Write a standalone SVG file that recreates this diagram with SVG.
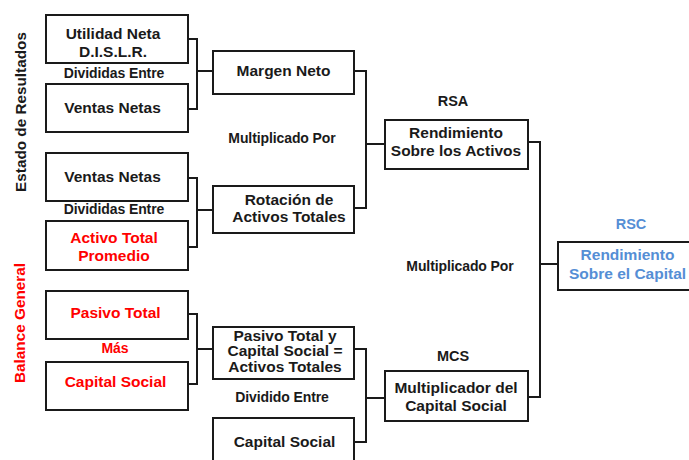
<svg xmlns="http://www.w3.org/2000/svg" width="689" height="460" viewBox="0 0 689 460">
<style>
.box{fill:#fff;stroke:#1a1a1a;stroke-width:2}
.t{font-family:"Liberation Sans",Arial,sans-serif;font-weight:bold;font-size:15.5px;fill:#1a1a1a;text-anchor:middle}
.v{font-family:"Liberation Sans",Arial,sans-serif;font-weight:bold;font-size:15.3px;fill:#1a1a1a;text-anchor:middle}
.s{font-family:"Liberation Sans",Arial,sans-serif;font-weight:bold;font-size:14px;fill:#1a1a1a;text-anchor:middle;letter-spacing:-0.1px}
.red{fill:#ff0000}
.blue{fill:#558ed5}
.c{fill:none;stroke:#1a1a1a;stroke-width:2}
</style>
<g id="connectors">
<path class="c" d="M188,39 H197 V109 H188 M197,71 H213"/>
<path class="c" d="M188,178 H197 V247 H188 M197,210 H213"/>
<path class="c" d="M188,314 H197 V384 H188 M197,349 H213"/>
<path class="c" d="M354,71 H366 V208 H354 M366,144 H385"/>
<path class="c" d="M354,349 H366 V442 H354 M366,398 H385"/>
<path class="c" d="M528,142 H540 V397 H528 M540,264 H558"/>
</g>
<g id="label-estado"><text class="v" transform="translate(25.5,112) rotate(-90)">Estado de Resultados</text></g>
<g id="label-balance"><text class="v red" transform="translate(25,323) rotate(-90)">Balance General</text></g>
<g id="n-utilidad"><rect class="box" x="46" y="15" width="142" height="48"/><text class="t" x="113" y="39">Utilidad Neta</text><text class="t" x="113" y="57">D.I.S.L.R.</text></g>
<g id="l-div1"><text class="s" x="114" y="77.5">Divididas Entre</text></g>
<g id="n-ventas1"><rect class="box" x="46" y="84" width="142" height="48"/><text class="t" x="112.5" y="113">Ventas Netas</text></g>
<g id="n-ventas2"><rect class="box" x="46" y="153" width="142" height="48"/><text class="t" x="112.5" y="182">Ventas Netas</text></g>
<g id="l-div2"><text class="s" x="114" y="214">Divididas Entre</text></g>
<g id="n-activo"><rect class="box" x="46" y="221" width="142" height="49"/><text class="t red" x="114" y="243">Activo Total</text><text class="t red" x="114" y="260.5">Promedio</text></g>
<g id="n-pasivo"><rect class="box" x="46" y="291" width="142" height="48"/><text class="t red" x="115.5" y="317.5">Pasivo Total</text></g>
<g id="l-mas"><text class="s red" x="115" y="352.5">Más</text></g>
<g id="n-capital1"><rect class="box" x="46" y="362" width="142" height="48"/><text class="t red" x="115.5" y="386.5">Capital Social</text></g>
<g id="n-margen"><rect class="box" x="213" y="51" width="141" height="43"/><text class="t" x="283.5" y="76">Margen Neto</text></g>
<g id="l-mult1"><text class="s" x="282" y="142.5">Multiplicado Por</text></g>
<g id="n-rotacion"><rect class="box" x="213" y="186" width="141" height="47"/><text class="t" x="289" y="205">Rotación de</text><text class="t" x="289" y="222">Activos Totales</text></g>
<g id="n-pasivocap"><rect class="box" x="213" y="327" width="141" height="52"/><text class="t" x="285" y="340.5">Pasivo Total y</text><text class="t" x="285" y="356">Capital Social =</text><text class="t" x="285" y="371.5">Activos Totales</text></g>
<g id="l-dividido"><text class="s" x="282" y="401.5">Dividido Entre</text></g>
<g id="n-capital2"><rect class="box" x="213" y="418" width="141" height="48"/><text class="t" x="284.5" y="446.5">Capital Social</text></g>
<g id="l-rsa"><text class="t" x="453" y="106" style="font-size:14.5px">RSA</text></g>
<g id="n-rsa"><rect class="box" x="385" y="120" width="143" height="49"/><text class="t" x="456" y="137.5">Rendimiento</text><text class="t" x="456" y="156">Sobre los Activos</text></g>
<g id="l-mult2"><text class="s" x="460" y="271">Multiplicado Por</text></g>
<g id="l-mcs"><text class="t" x="453" y="361" style="font-size:14.5px">MCS</text></g>
<g id="n-mcs"><rect class="box" x="385" y="371" width="143" height="50"/><text class="t" x="456" y="392.5">Multiplicador del</text><text class="t" x="456" y="410.5">Capital Social</text></g>
<g id="l-rsc"><text class="t blue" x="631" y="229" style="font-size:14.5px">RSC</text></g>
<g id="n-rsc"><rect class="box" x="558" y="242" width="132" height="48"/><text class="t blue" x="627.5" y="260">Rendimiento</text><text class="t blue" x="627.5" y="278.5">Sobre el Capital</text></g>
</svg>
